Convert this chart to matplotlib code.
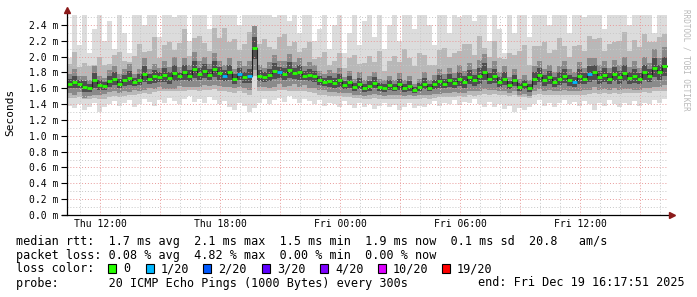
import matplotlib
matplotlib.use("Agg")
import matplotlib.pyplot as plt
import numpy as np

# time of first step (hours since Thu 00:00), 15 min steps
t0 = 10.35
step = 0.25

# median rtt (ms)
med = [1.66, 1.68, 1.65, 1.62, 1.60, 1.70, 1.64, 1.63, 1.69, 1.72,
       1.66, 1.70, 1.73, 1.68, 1.71, 1.78, 1.72, 1.75, 1.74, 1.77,
       1.73, 1.79, 1.75, 1.80, 1.76, 1.84, 1.78, 1.82, 1.77, 1.84,
       1.79, 1.76, 1.80, 1.72, 1.78, 1.74, 1.76, 2.11, 1.76, 1.74,
       1.77, 1.82, 1.80, 1.78, 1.83, 1.79, 1.80, 1.76, 1.77, 1.75,
       1.70, 1.68, 1.69, 1.67, 1.70, 1.64, 1.68, 1.62, 1.66, 1.60,
       1.63, 1.67, 1.62, 1.60, 1.64, 1.61, 1.65, 1.60, 1.63, 1.58,
       1.62, 1.66, 1.61, 1.65, 1.69, 1.66, 1.70, 1.67, 1.72, 1.68,
       1.74, 1.70, 1.76, 1.81, 1.72, 1.76, 1.68, 1.72, 1.64, 1.70,
       1.62, 1.65, 1.60, 1.72, 1.77, 1.70, 1.74, 1.68, 1.72, 1.76,
       1.70, 1.68, 1.75, 1.72, 1.78, 1.80, 1.74, 1.77, 1.72, 1.78,
       1.74, 1.79, 1.73, 1.76, 1.72, 1.80, 1.76, 1.86, 1.80, 1.88]

# lost pings out of 20
loss = [0, 0, 0, 0, 0, 0, 0, 0, 0, 0,
        0, 0, 0, 0, 0, 0, 0, 0, 0, 0,
        0, 0, 0, 0, 0, 0, 0, 0, 0, 0,
        0, 1, 0, 0, 1, 0, 1, 0, 0, 0,
        0, 0, 1, 0, 0, 0, 0, 0, 0, 0,
        0, 0, 0, 0, 0, 0, 0, 0, 0, 0,
        0, 0, 0, 0, 0, 0, 0, 0, 0, 0,
        0, 0, 0, 0, 0, 0, 0, 0, 0, 0,
        0, 0, 0, 0, 0, 0, 0, 0, 0, 0,
        0, 0, 0, 0, 0, 0, 0, 0, 0, 0,
        0, 1, 0, 0, 1, 0, 0, 0, 0, 0,
        0, 0, 0, 0, 0, 0, 0, 0, 0, 0]

# slowest ping per step (2.6 = off the top)
hi1 = [1.98, 2.6, 2.15, 2.6, 2.05, 2.35, 2.6, 2.2, 2.45, 2.1,
       2.6, 2.3, 2.05, 2.6, 2.6, 2.4, 2.6, 2.6, 2.25, 2.6,
       2.6, 2.5, 2.6, 2.6, 2.2, 2.6, 2.6, 2.6, 2.35, 2.6,
       2.6, 2.6, 2.6, 2.6, 2.4, 2.6, 2.6, 2.6, 2.6, 2.6,
       2.6, 2.5, 2.6, 2.6, 2.45, 2.6, 2.3, 2.6, 2.6, 2.2,
       2.35, 2.6, 2.1, 2.4, 2.6, 2.05, 2.3, 2.6, 2.15, 2.45,
       2.6, 2.25, 2.6, 2.1, 2.4, 2.6, 2.2, 2.6, 2.6, 2.35,
       2.6, 2.6, 2.4, 2.15, 2.6, 2.6, 2.3, 2.6, 2.5, 2.6,
       2.6, 2.45, 2.6, 2.6, 2.2, 2.6, 2.35, 2.05, 2.6, 2.3,
       2.6, 2.6, 2.25, 2.6, 2.6, 2.6, 2.4, 2.6, 2.6, 2.6,
       2.3, 2.6, 2.6, 2.5, 2.6, 2.6, 2.6, 2.35, 2.6, 2.6,
       2.6, 2.6, 2.4, 2.6, 2.6, 2.6, 2.6, 2.3, 2.6, 2.6]

# fastest ping per step
lo1 = [1.38, 1.35, 1.40, 1.33, 1.36, 1.42, 1.30, 1.37, 1.40, 1.44,
       1.38, 1.42, 1.45, 1.36, 1.40, 1.47, 1.43, 1.38, 1.45, 1.42,
       1.48, 1.44, 1.40, 1.46, 1.50, 1.43, 1.47, 1.42, 1.49, 1.45,
       1.40, 1.44, 1.36, 1.33, 1.42, 1.38, 1.30, 1.35, 1.42, 1.46,
       1.40, 1.45, 1.48, 1.43, 1.50, 1.46, 1.42, 1.47, 1.44, 1.40,
       1.45, 1.38, 1.42, 1.40, 1.36, 1.44, 1.39, 1.35, 1.41, 1.37,
       1.40, 1.34, 1.38, 1.41, 1.36, 1.39, 1.33, 1.37, 1.42, 1.35,
       1.38, 1.36, 1.40, 1.44, 1.38, 1.42, 1.40, 1.45, 1.39, 1.43,
       1.41, 1.46, 1.40, 1.37, 1.43, 1.36, 1.40, 1.34, 1.38, 1.30,
       1.35, 1.33, 1.37, 1.40, 1.45, 1.38, 1.42, 1.36, 1.41, 1.45,
       1.40, 1.43, 1.38, 1.44, 1.40, 1.33, 1.42, 1.38, 1.45, 1.40,
       1.36, 1.42, 1.39, 1.44, 1.38, 1.42, 1.40, 1.45, 1.41, 1.46]

# middle smoke band: spread above / below the median
up2 = [0.25, 0.38, 0.22, 0.30, 0.28, 0.20, 0.35, 0.26, 0.22, 0.30,
       0.40, 0.25, 0.20, 0.33, 0.45, 0.28, 0.35, 0.50, 0.24, 0.38,
       0.45, 0.30, 0.42, 0.55, 0.25, 0.40, 0.48, 0.35, 0.30, 0.52,
       0.45, 0.60, 0.38, 0.50, 0.30, 0.42, 0.55, 0.20, 0.40, 0.48,
       0.35, 0.28, 0.45, 0.50, 0.30, 0.40, 0.26, 0.35, 0.42, 0.22,
       0.30, 0.38, 0.20, 0.28, 0.35, 0.22, 0.30, 0.40, 0.25, 0.32,
       0.38, 0.26, 0.45, 0.22, 0.30, 0.40, 0.28, 0.50, 0.35, 0.30,
       0.42, 0.36, 0.28, 0.24, 0.40, 0.45, 0.30, 0.38, 0.35, 0.48,
       0.42, 0.32, 0.50, 0.30, 0.28, 0.44, 0.30, 0.25, 0.40, 0.32,
       0.45, 0.50, 0.30, 0.42, 0.36, 0.48, 0.30, 0.40, 0.52, 0.38,
       0.30, 0.45, 0.40, 0.35, 0.48, 0.42, 0.50, 0.30, 0.44, 0.40,
       0.46, 0.52, 0.34, 0.45, 0.40, 0.48, 0.42, 0.32, 0.45, 0.40]

dn2 = [0.18, 0.20, 0.16, 0.15, 0.14, 0.22, 0.18, 0.16, 0.20, 0.22,
       0.17, 0.20, 0.22, 0.16, 0.18, 0.24, 0.19, 0.20, 0.18, 0.21,
       0.17, 0.23, 0.19, 0.24, 0.18, 0.26, 0.21, 0.24, 0.19, 0.25,
       0.22, 0.20, 0.25, 0.18, 0.22, 0.20, 0.24, 0.35, 0.20, 0.18,
       0.21, 0.25, 0.22, 0.20, 0.26, 0.22, 0.24, 0.20, 0.22, 0.21,
       0.18, 0.16, 0.19, 0.17, 0.20, 0.15, 0.19, 0.14, 0.18, 0.13,
       0.16, 0.19, 0.15, 0.13, 0.17, 0.14, 0.18, 0.13, 0.16, 0.12,
       0.15, 0.18, 0.14, 0.17, 0.20, 0.17, 0.21, 0.18, 0.22, 0.19,
       0.23, 0.20, 0.25, 0.28, 0.20, 0.23, 0.17, 0.20, 0.14, 0.19,
       0.13, 0.16, 0.12, 0.20, 0.24, 0.19, 0.22, 0.17, 0.21, 0.24,
       0.19, 0.17, 0.23, 0.20, 0.25, 0.26, 0.21, 0.23, 0.19, 0.24,
       0.21, 0.25, 0.19, 0.22, 0.18, 0.25, 0.22, 0.30, 0.24, 0.31]

# dark core band half width
d3 = [0.06, 0.08, 0.05, 0.07, 0.05, 0.09, 0.06, 0.05, 0.07, 0.08,
      0.06, 0.07, 0.09, 0.05, 0.07, 0.10, 0.06, 0.08, 0.06, 0.09,
      0.07, 0.10, 0.06, 0.09, 0.07, 0.11, 0.08, 0.09, 0.07, 0.10,
      0.08, 0.07, 0.09, 0.06, 0.08, 0.07, 0.09, 0.14, 0.07, 0.06,
      0.08, 0.10, 0.07, 0.08, 0.10, 0.07, 0.09, 0.06, 0.08, 0.07,
      0.06, 0.05, 0.07, 0.06, 0.08, 0.05, 0.07, 0.05, 0.07, 0.05,
      0.06, 0.07, 0.05, 0.05, 0.06, 0.05, 0.07, 0.05, 0.06, 0.04,
      0.05, 0.07, 0.05, 0.06, 0.08, 0.06, 0.08, 0.06, 0.09, 0.07,
      0.09, 0.07, 0.10, 0.11, 0.07, 0.09, 0.06, 0.08, 0.05, 0.07,
      0.05, 0.06, 0.05, 0.08, 0.09, 0.07, 0.08, 0.06, 0.08, 0.09,
      0.07, 0.06, 0.09, 0.07, 0.10, 0.09, 0.08, 0.09, 0.07, 0.09,
      0.08, 0.10, 0.07, 0.09, 0.07, 0.10, 0.08, 0.12, 0.09, 0.12]

loss_labels = ["0", "1/20", "2/20", "3/20", "4/20", "10/20", "19/20"]
loss_levels = [0, 1, 2, 3, 4, 10, 19]
loss_colors = ["#26ff00", "#00b8ff", "#0059ff", "#5e00ff", "#7e00ff", "#dd00ff", "#ff0000"]

tick_pos = [12, 18, 24, 30, 36]
tick_lab = ["Thu 12:00", "Thu 18:00", "Fri 00:00", "Fri 06:00", "Fri 12:00"]

mono = "DejaVu Sans Mono"

med = np.array(med)
hi1 = np.array(hi1)
lo1 = np.array(lo1)
up2 = np.array(up2)
dn2 = np.array(dn2)
d3 = np.array(d3)
x = t0 + step * np.arange(len(med))

W, H = 697, 297
fig = plt.figure(figsize=(W / 100, H / 100), dpi=100)
ax = fig.add_axes([67 / W, (H - 215) / H, 601 / W, 200 / H])
ymax = 200 / 79.17
ax.set_xlim(t0, t0 + 601 / 20)
ax.set_ylim(0, ymax)

# smoke, lightest outside, darker towards the median
ax.bar(x, hi1 - lo1, bottom=lo1, width=step, align="edge", color="#dcdcdc", lw=0, zorder=1)
ax.bar(x, up2 + dn2, bottom=med - dn2, width=step, align="edge", color="#b8b8b8", lw=0, zorder=1)
ax.bar(x, 4 * d3, bottom=med - 2 * d3, width=step, align="edge", color="#8a8a8a", lw=0, zorder=1)
ax.bar(x, 2 * d3, bottom=med - d3, width=step, align="edge", color="#4e4e4e", lw=0, zorder=1)

# grid on top of the smoke
for v in np.arange(0.1, ymax, 0.1):
    major = abs(v / 0.2 - round(v / 0.2)) < 1e-6
    ax.axhline(v, color="#e89a9a" if major else "#c8c8c8", lw=0.7, ls=(0, (1, 2)), zorder=2)
for h in range(11, 41):
    ax.axvline(h, color="#e89a9a" if h % 3 == 0 else "#c8c8c8", lw=0.7, ls=(0, (1, 2)), zorder=2)

# median
ax.step(np.append(x, x[-1] + step), np.append(med, med[-1]), where="post",
        color="#202020", lw=0.8, zorder=3)
cmap = dict(zip(loss_levels, loss_colors))
ax.hlines(med, x, x + step, colors=[cmap[l] for l in loss], lw=2.0, zorder=4)

for s in ax.spines.values():
    s.set_visible(False)
ax.set_yticks(np.arange(0, 2.41, 0.2))
ax.set_yticklabels(["%.1f m" % v for v in np.arange(0, 2.41, 0.2)], fontsize=7, family=mono)
ax.set_xticks(tick_pos)
ax.set_xticklabels(tick_lab, fontsize=7, family=mono)
ax.tick_params(axis="y", length=4, width=0.8, pad=2)
ax.tick_params(axis="x", length=0, pad=3)

# axes with arrow heads
ax.plot([-0.008, 1.005], [0, 0], color="black", lw=0.9, transform=ax.transAxes, clip_on=False, zorder=5)
ax.plot([0, 0], [0, 1.02], color="black", lw=0.9, transform=ax.transAxes, clip_on=False, zorder=5)
ax.plot([1.007], [0], marker=">", ms=4, color="#8b1a1a", transform=ax.transAxes, clip_on=False, zorder=6)
ax.plot([0], [1.025], marker="^", ms=4, color="#8b1a1a", transform=ax.transAxes, clip_on=False, zorder=6)

fig.text(10 / W, 1 - 112 / H, "Seconds", rotation=90, ha="center", va="center", fontsize=8, family=mono)
fig.text(686 / W, 1 - 60 / H, "RRDTOOL / TOBI OETIKER", rotation=270, ha="center", va="center",
         fontsize=5.5, family=mono, color="#b8b8b8")

# legend / stats
fs = 8.5
fig.text(16 / W, 1 - 241 / H, "median rtt:  1.7 ms avg  2.1 ms max  1.5 ms min  1.9 ms now  0.1 ms sd  20.8   am/s",
         fontsize=fs, family=mono, va="center")
fig.text(16 / W, 1 - 255 / H, "packet loss: 0.08 % avg  4.82 % max  0.00 % min  0.00 % now",
         fontsize=fs, family=mono, va="center")
fig.text(16 / W, 1 - 269 / H, "loss color:", fontsize=fs, family=mono, va="center")
box_x = [108, 146, 203, 262, 320, 378, 442]
for bx, lab, c in zip(box_x, loss_labels, loss_colors):
    fig.patches.append(plt.Rectangle((bx / W, 1 - 273 / H), 8 / W, 9 / H, transform=fig.transFigure,
                                     facecolor=c, edgecolor="black", lw=0.8))
    fig.text((bx + 15) / W, 1 - 269 / H, lab, fontsize=fs, family=mono, va="center")
fig.text(16 / W, 1 - 283 / H, "probe:       20 ICMP Echo Pings (1000 Bytes) every 300s",
         fontsize=fs, family=mono, va="center")
fig.text(478 / W, 1 - 283 / H, "end: Fri Dec 19 16:17:51 2025", fontsize=fs, family=mono, va="center")

fig.savefig("out.png", dpi=100)
